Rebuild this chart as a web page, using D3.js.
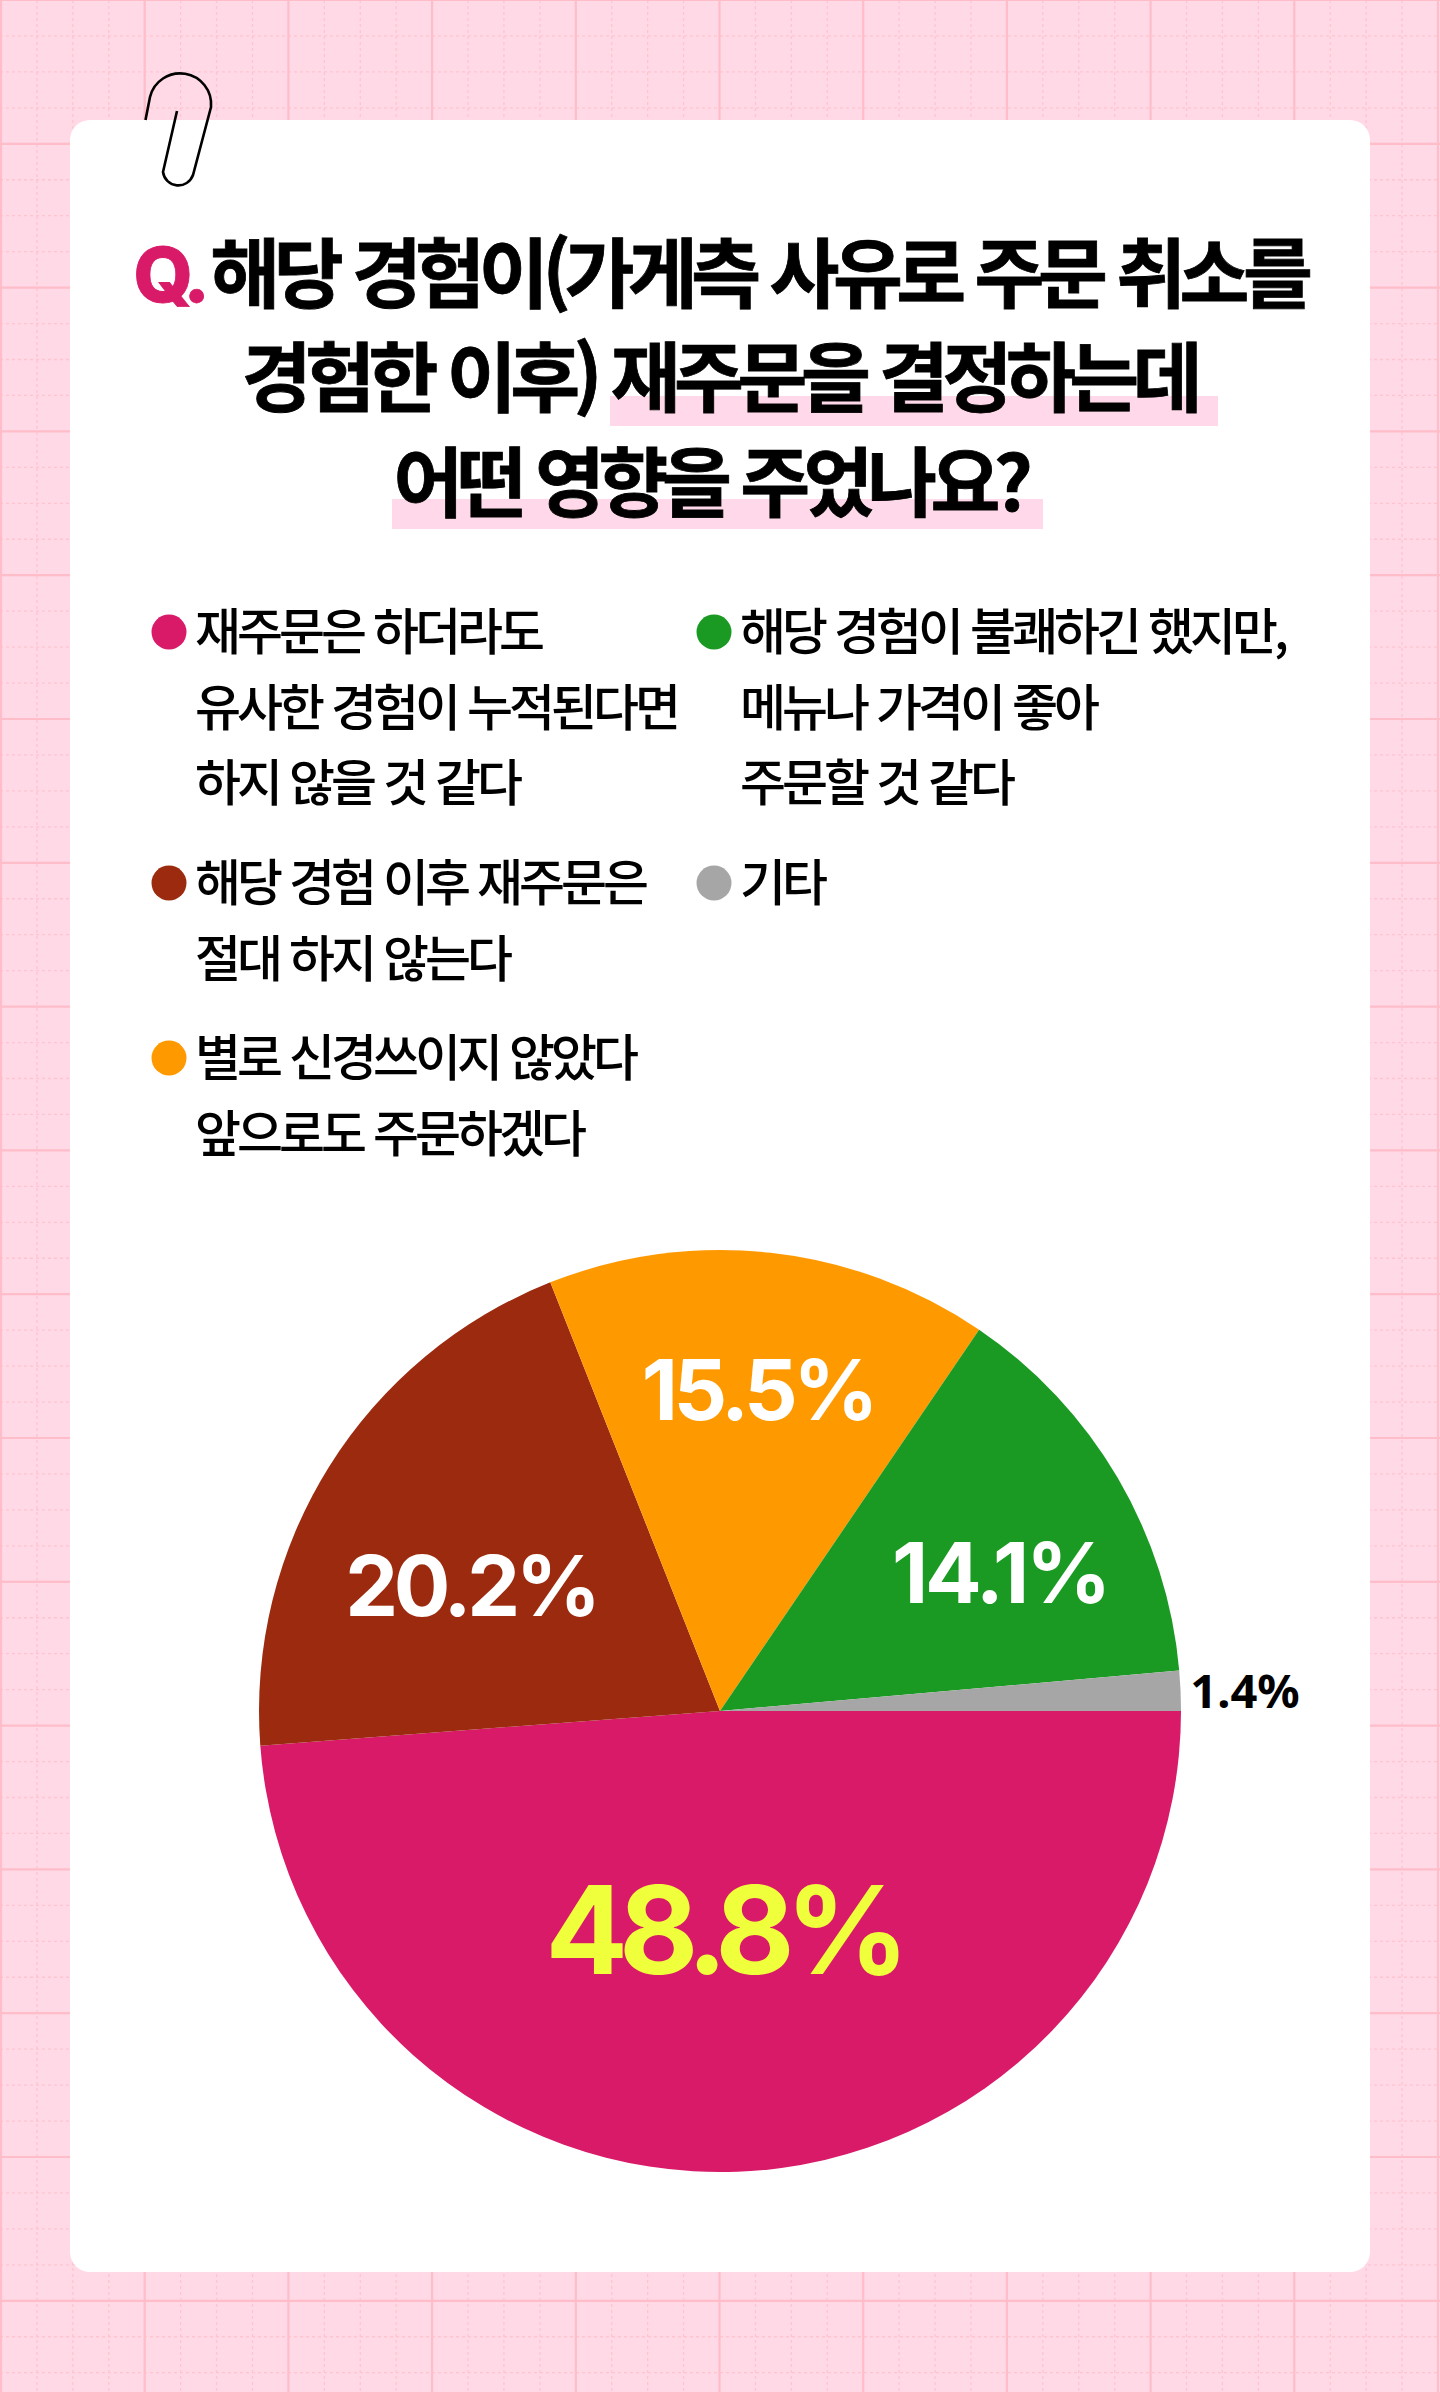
<!DOCTYPE html>
<html lang="ko"><head><meta charset="utf-8">
<script src="https://cdn.jsdelivr.net/npm/d3@7/dist/d3.min.js"></script>
<style>html,body{margin:0;padding:0;background:#FFD9E6}svg{display:block}</style></head>
<body><div id="chart"></div>
<script>
const categories = ["재주문은 하더라도 유사한 경험이 누적된다면 하지 않을 것 같다","해당 경험 이후 재주문은 절대 하지 않는다","별로 신경쓰이지 않았다 앞으로도 주문하겠다","해당 경험이 불쾌하긴 했지만, 메뉴나 가격이 좋아 주문할 것 같다","기타"];
const values = [48.8,20.2,15.5,14.1,1.4];
const colors = ["#D81A68","#9C2A0E","#FF9900","#1A9A22","#A6A6A6"];
const labelColors = ["#F0FF3C","#FFFFFF","#FFFFFF","#FFFFFF","#000000"];
const labelSizes = [122,84,84,84,47];
const labelSpacing = [-9,-4.4,-4.4,-3.2,0];
const labelOffsets = [[3,219],[-249,-125],[38,-321],[280,-138],[525,-20]];
const legendLines = [["재주문은 하더라도","유사한 경험이 누적된다면","하지 않을 것 같다"],["해당 경험 이후 재주문은","절대 하지 않는다"],["별로 신경쓰이지 않았다","앞으로도 주문하겠다"],["해당 경험이 불쾌하긴 했지만,","메뉴나 가격이 좋아","주문할 것 같다"],["기타"]];
const legendPos = [[169,632],[169,883],[169,1058],[714,632],[714,883]];
const W=1440,H=2392,cx=720,cy=1711,R=461;
const svg=d3.select("#chart").append("svg").attr("width",W).attr("height",H).attr("viewBox",[0,0,W,H]);
svg.append("rect").attr("width",W).attr("height",H).attr("fill","#FFD9E6");
const gx=d3.range(0,41).map(i=>1+i*143.7/4), gy=d3.range(0,67).map(i=>i*143.8/4);
const grid=svg.append("g");
grid.selectAll(".mv").data(gx.filter((d,i)=>i%4)).join("line").attr("x1",d=>d).attr("x2",d=>d).attr("y1",0).attr("y2",H).attr("stroke","#FFC4D0").attr("stroke-width",1.3).attr("stroke-dasharray","3 3");
grid.selectAll(".mh").data(gy.filter((d,i)=>i%4)).join("line").attr("y1",d=>d).attr("y2",d=>d).attr("x1",0).attr("x2",W).attr("stroke","#FFC4D0").attr("stroke-width",1.3).attr("stroke-dasharray","3 3");
grid.selectAll(".Mv").data(gx.filter((d,i)=>!(i%4))).join("line").attr("x1",d=>d).attr("x2",d=>d).attr("y1",0).attr("y2",H).attr("stroke","#FFBDC9").attr("stroke-width",2.2);
grid.selectAll(".Mh").data(gy.filter((d,i)=>!(i%4))).join("line").attr("y1",d=>d).attr("y2",d=>d).attr("x1",0).attr("x2",W).attr("stroke","#FFBDC9").attr("stroke-width",2.2);
const clipBack="M145.5 120 L150 97 A31 31 0 0 1 211 107 L193 175 A15.5 15.5 0 0 1 163 172 L177 111";
svg.append("rect").attr("x",70).attr("y",120).attr("width",1300).attr("height",2152).attr("rx",20).attr("fill","#fff");
svg.append("path").attr("d",clipBack).attr("fill","none").attr("stroke","#000").attr("stroke-width",2.6);
svg.append("rect").attr("x",610).attr("y",396).attr("width",608).attr("height",30).attr("fill","#FFD9E9");
svg.append("rect").attr("x",392).attr("y",499).attr("width",651).attr("height",30).attr("fill","#FFD9E9");
const ff="'Noto Sans CJK KR','Noto Sans',sans-serif";
const t=svg.append("g").attr("font-family",ff).attr("font-weight",700).attr("font-size",76).attr("letter-spacing",-6.5).attr("text-anchor","middle").attr("fill","#000").attr("stroke","#000").attr("stroke-width",0.8);
const l1=t.append("text").attr("x",720).attr("y",302);
l1.append("tspan").attr("fill","#D81A68").attr("stroke","#D81A68").attr("font-family","Inter").attr("font-weight",800).text("Q. ");
l1.append("tspan").text("해당 경험이(가게측 사유로 주문 취소를");
t.append("text").attr("x",719).attr("y",406).text("경험한 이후) 재주문을 결정하는데");
t.append("text").attr("x",710).attr("y",511).text("어떤 영향을 주었나요?");
const lg=svg.append("g");
legendLines.forEach((ls,i)=>{
  const [x,y]=legendPos[i];
  lg.append("circle").attr("cx",x).attr("cy",y).attr("r",17.5).attr("fill",colors[i]);
  ls.forEach((s,j)=>lg.append("text").attr("x",x+26).attr("y",y+18+j*75.5).attr("font-family",ff).attr("font-weight",500).attr("font-size",50).attr("letter-spacing",-4).attr("fill","#000").text(s));
});
const pie=d3.pie().sort(null).startAngle(Math.PI/2).endAngle(Math.PI*2.5);
const arc=d3.arc().innerRadius(0).outerRadius(R);
const arcs=pie(values);
const g=svg.append("g").attr("transform",`translate(${cx},${cy})`);
g.selectAll("path").data(arcs).join("path").attr("d",arc).attr("fill",(d,i)=>colors[i]);
const fmt=v=>v.toFixed(1)+"%";
g.selectAll("text").data(arcs).join("text").attr("text-anchor","middle")
 .attr("x",(d,i)=>labelOffsets[i][0]).attr("y",(d,i)=>labelOffsets[i][1])
 .attr("dy","0.36em").attr("font-family",(d,i)=>i===4?"'Noto Sans'":"Inter").attr("font-weight",700)
 .attr("font-size",(d,i)=>labelSizes[i]).attr("letter-spacing",(d,i)=>labelSpacing[i]).attr("fill",(d,i)=>labelColors[i]).text(d=>fmt(d.data));
</script></body></html>
